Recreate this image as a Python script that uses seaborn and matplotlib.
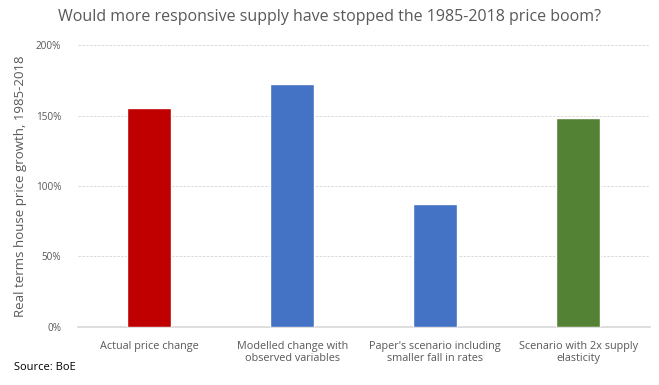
import matplotlib
matplotlib.use("Agg")
import matplotlib.pyplot as plt
import seaborn as sns
import pandas as pd
from matplotlib.ticker import FuncFormatter

# 数据
categories = ["Actual price change",
              "Modelled change with\nobserved variables",
              "Paper's scenario including\nsmaller fall in rates",
              "Scenario with 2x supply\nelasticity"]
growth = [155.5, 172.5, 87.5, 148.5]
bar_colors = ["#C00000", "#4472C4", "#4472C4", "#548235"]
y_ticks = [0, 50, 100, 150, 200]

sns.set_theme(style="white")
plt.rcParams['font.family'] = ['Open Sans', 'DejaVu Sans']

df = pd.DataFrame({"cat": categories, "val": growth})

fig = plt.figure(figsize=(6.59, 3.85), dpi=100)
ax = fig.add_axes([0.118, 0.151, 0.868, 0.732])

sns.barplot(data=df, x="cat", y="val", hue="cat", palette=bar_colors,
            legend=False, width=0.31, saturation=1, ax=ax, zorder=3)

ax.set_ylim(0, 200)
ax.set_yticks(y_ticks)
ax.yaxis.set_major_formatter(FuncFormatter(lambda v, p: f"{v:.0f}%"))
ax.grid(axis="y", color="#D9D9D9", linestyle=(0, (2.5, 1.5)), linewidth=0.7, zorder=0)
ax.set_axisbelow(True)
for s in ["top", "right", "left"]:
    ax.spines[s].set_visible(False)
ax.spines["bottom"].set_color("#D9D9D9")
ax.tick_params(axis="y", labelsize=7.2, colors="#595959", length=0, pad=12)
ax.tick_params(axis="x", labelsize=7.8, colors="#595959", length=0, pad=10)
ax.set_xlabel("")
ax.set_ylabel("Real terms house price growth, 1985-2018", fontsize=9.5,
              color="#595959", labelpad=6)

fig.text(0.5, 0.955, "Would more responsive supply have stopped the 1985-2018 price boom?",
         ha="center", va="center", fontsize=11.5, color="#595959")
fig.text(0.021, 0.045, "Source: BoE", ha="left", va="center", fontsize=8, color="black")

fig.savefig("out.png", dpi=100)
